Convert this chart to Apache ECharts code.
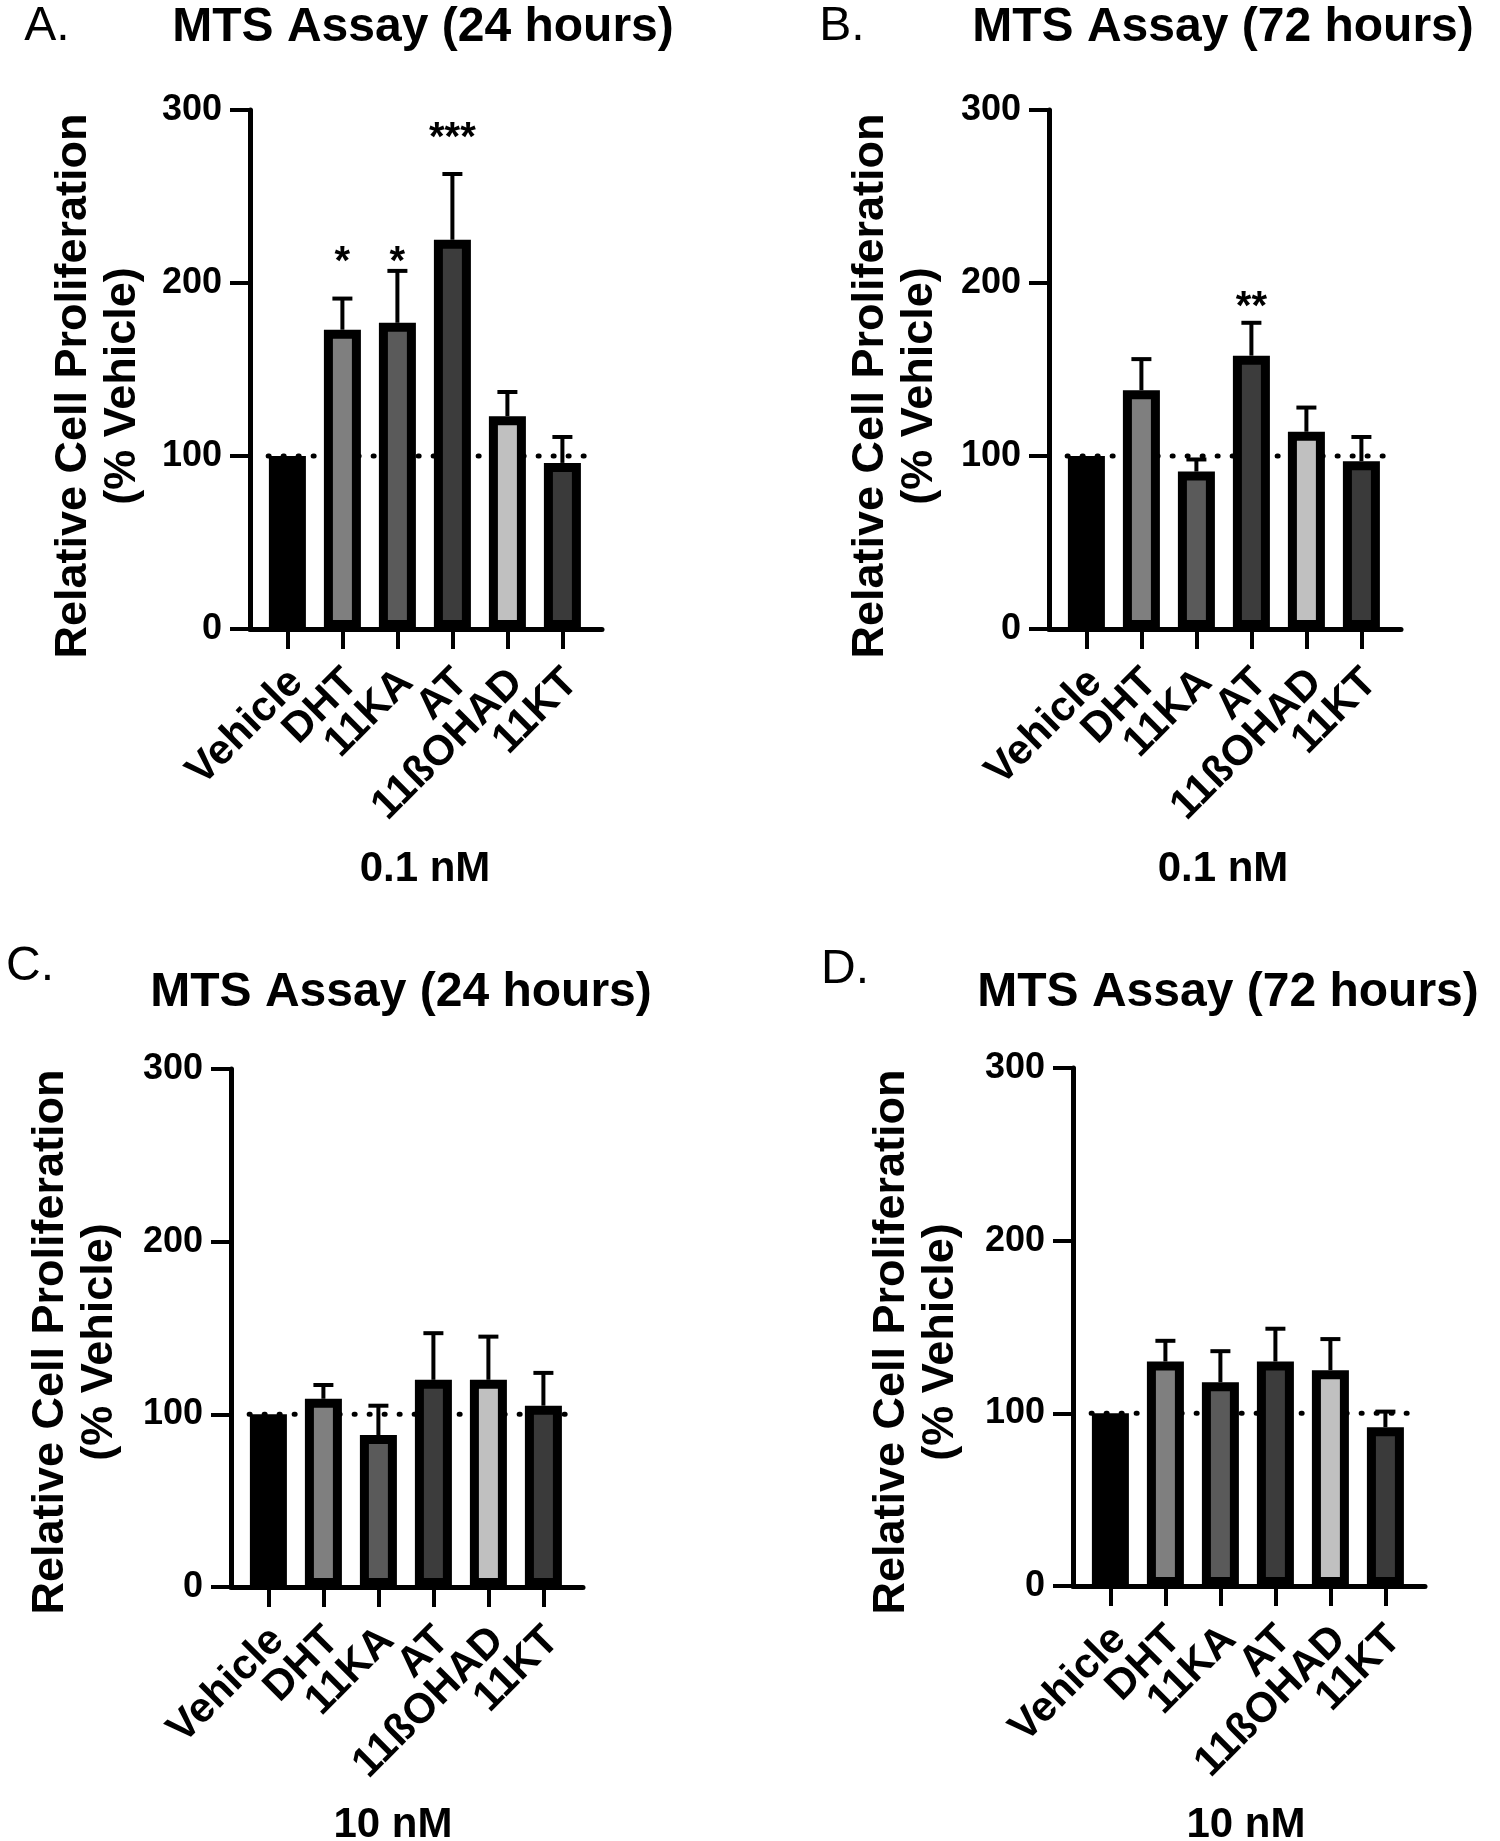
<!DOCTYPE html>
<html>
<head>
<meta charset="utf-8">
<script src="https://cdn.jsdelivr.net/npm/echarts@6/dist/echarts.min.js"></script>
<style>html,body{margin:0;padding:0;background:#fff;}#c{width:1500px;height:1841px;}</style>
</head>
<body>
<div id="c"></div>
<script>
// ---- data ----
const categories = ['Vehicle', 'DHT', '11KA', 'AT', '11ßOHAD', '11KT'];
const yTicks = [0, 100, 200, 300];

const meanA = [100, 173, 177, 225, 123, 96];
const errA  = [0, 18, 30, 38, 14, 15];
const starsA = ['', '*', '*', '***', '', ''];
const starYA = [null, 216, 216, 288, null, null];

const meanB = [100, 138, 91, 158, 114, 97];
const errB  = [0, 18, 7, 19, 14, 14];
const starsB = ['', '', '', '**', '', ''];
const starYB = [null, null, null, 190, null, null];

const meanC = [100, 109, 88, 120, 120, 105];
const errC  = [0, 8, 17, 27, 25, 19];
const starsC = ['', '', '', '', '', ''];
const starYC = [null, null, null, null, null, null];

const meanD = [100, 130, 118, 130, 125, 92];
const errD  = [0, 12, 18, 19, 18, 9];
const starsD = ['', '', '', '', '', ''];
const starYD = [null, null, null, null, null, null];

const refLevel = 100;
const fills = ['#000000', '#7f7f7f', '#5a5a5a', '#3c3c3c', '#c0c0c0', '#3a3a3a'];

// ---- layout ----
const FONT = '"Liberation Sans", Arial, Helvetica, sans-serif';
const X_MIN = -0.68, X_MAX = 5.72, GRID_W = 352;
const BAND = GRID_W / (X_MAX - X_MIN);   // px per category
const LABEL_DX = 9;                      // rotated labels sit slightly right of their tick
const panels = [
  {mean: meanA, err: errA, stars: starsA, starY: starYA, grid: {left: 250, top: 110, width: GRID_W, height: 519},
   title: 'MTS Assay (24 hours)', tx: 423, ty: 28, letter: 'A.', lx: 47, ly: 27, conc: '0.1 nM', cx: 425, cy: 869, nx: 98, ny: 386},
  {mean: meanB, err: errB, stars: starsB, starY: starYB, grid: {left: 1049, top: 110, width: GRID_W, height: 519},
   title: 'MTS Assay (72 hours)', tx: 1223, ty: 28, letter: 'B.', lx: 842, ly: 27, conc: '0.1 nM', cx: 1223, cy: 869, nx: 895, ny: 386},
  {mean: meanC, err: errC, stars: starsC, starY: starYC, grid: {left: 231, top: 1069, width: GRID_W, height: 518},
   title: 'MTS Assay (24 hours)', tx: 401, ty: 993, letter: 'C.', lx: 30, ly: 967, conc: '10 nM', cx: 393, cy: 1825, nx: 75, ny: 1342},
  {mean: meanD, err: errD, stars: starsD, starY: starYD, grid: {left: 1073, top: 1068, width: GRID_W, height: 518},
   title: 'MTS Assay (72 hours)', tx: 1228, ty: 993, letter: 'D.', lx: 845, ly: 970, conc: '10 nM', cx: 1246, cy: 1825, nx: 916, ny: 1342}
];

const grids = [], xAxes = [], yAxes = [], series = [], graphics = [];
const idx = categories.map((c, i) => i);
const N = panels.length;

panels.forEach((p, k) => {
  grids[k] = Object.assign({containLabel: false}, p.grid);
  xAxes[k] = {
    type: 'value', gridIndex: k, min: X_MIN, max: X_MAX,
    splitLine: {show: false},
    axisLine: {show: true, onZero: false, lineStyle: {color: '#000', width: 5}},
    axisTick: {show: true, customValues: idx, length: 20, lineStyle: {color: '#000', width: 4}},
    axisLabel: {show: false}
  };
  yAxes[k] = {
    type: 'value', gridIndex: k, min: 0, max: 300, interval: 100,
    splitLine: {show: false},
    axisLine: {show: true, onZero: false, lineStyle: {color: '#000', width: 5}},
    axisTick: {show: true, length: 20, lineStyle: {color: '#000', width: 4}},
    axisLabel: {show: true, margin: 28, color: '#000', fontFamily: FONT, fontWeight: 'bold', fontSize: 36,
      showMinLabel: true, showMaxLabel: true, customValues: yTicks}
  };
  // companion grid carrying the rotated category labels (same band width, shifted by LABEL_DX)
  const firstTick = p.grid.left + (0 - X_MIN) * BAND;
  grids[N + k] = {left: firstTick + LABEL_DX - BAND / 2, top: p.grid.top,
    width: BAND * categories.length, height: p.grid.height, containLabel: false};
  xAxes[N + k] = {
    type: 'category', gridIndex: N + k, data: categories,
    axisLine: {show: false}, axisTick: {show: false}, splitLine: {show: false},
    axisLabel: {show: true, interval: 0, rotate: 45, margin: 47,
      color: '#000', fontFamily: FONT, fontWeight: 'bold', fontSize: 42}
  };
  yAxes[N + k] = {type: 'value', gridIndex: N + k, show: false, min: 0, max: 300};

  // dotted reference line at 100
  series.push({
    type: 'line', xAxisIndex: k, yAxisIndex: k, silent: true, z: 1,
    data: [[-0.35, refLevel], [5.63, refLevel]], symbol: 'none',
    lineStyle: {color: '#000', width: 5, type: [1, 14], cap: 'round'}
  });
  // error bars (upper only)
  series.push({
    type: 'custom', xAxisIndex: k, yAxisIndex: k, z: 2, silent: true,
    data: p.mean.map((v, i) => [i, v, v + p.err[i]]).filter((d, i) => p.err[i] > 0),
    encode: {x: 0, y: [1, 2]},
    renderItem: function (params, api) {
      const a = api.coord([api.value(0), api.value(1)]);
      const b = api.coord([api.value(0), api.value(2)]);
      const st = {stroke: '#000', lineWidth: 4};
      return {type: 'group', children: [
        {type: 'line', shape: {x1: a[0], y1: a[1], x2: b[0], y2: b[1]}, style: st},
        {type: 'line', shape: {x1: b[0] - 10, y1: b[1], x2: b[0] + 10, y2: b[1]}, style: st}
      ]};
    }
  });
  // bars
  series.push({
    type: 'bar', xAxisIndex: k, yAxisIndex: k, z: 3, barWidth: 37,
    data: p.mean.map((v, i) => ({value: [i, v], itemStyle: {color: fills[i]}})),
    itemStyle: {borderColor: '#000', borderWidth: 9}
  });
  // significance stars
  series.push({
    type: 'custom', xAxisIndex: k, yAxisIndex: k, z: 4, silent: true,
    data: p.starY.map((y, i) => [i, y, i]).filter(d => d[1] !== null),
    encode: {x: 0, y: 1},
    renderItem: function (params, api) {
      const c = api.coord([api.value(0), api.value(1)]);
      return {type: 'text', x: c[0], y: c[1] + 8,
        style: {text: p.stars[api.value(2)], fill: '#000', font: 'bold 40px ' + FONT,
          textAlign: 'center', textVerticalAlign: 'middle'}};
    }
  });
  // texts
  graphics.push({type: 'text', x: p.lx, y: p.ly, style: {text: p.letter, fill: '#000',
    font: 'normal 48px ' + FONT, textAlign: 'center', textVerticalAlign: 'middle'}});
  graphics.push({type: 'text', x: p.tx, y: p.ty, style: {text: p.title, fill: '#000',
    font: 'bold 48px ' + FONT, textAlign: 'center', textVerticalAlign: 'middle'}});
  graphics.push({type: 'text', x: p.cx, y: p.cy, style: {text: p.conc, fill: '#000',
    font: 'bold 42px ' + FONT, textAlign: 'center', textVerticalAlign: 'middle'}});
  graphics.push({type: 'text', x: p.nx, y: p.ny, rotation: Math.PI / 2,
    style: {text: 'Relative Cell Proliferation\n(% Vehicle)', fill: '#000', lineHeight: 49,
      font: 'bold 45px ' + FONT, textAlign: 'center', textVerticalAlign: 'middle'}});
});

const chart = echarts.init(document.getElementById('c'), null, {renderer: 'canvas'});
chart.setOption({
  animation: false,
  backgroundColor: '#fff',
  grid: grids, xAxis: xAxes, yAxis: yAxes, series: series,
  graphic: {elements: graphics}
});
</script>
</body>
</html>
